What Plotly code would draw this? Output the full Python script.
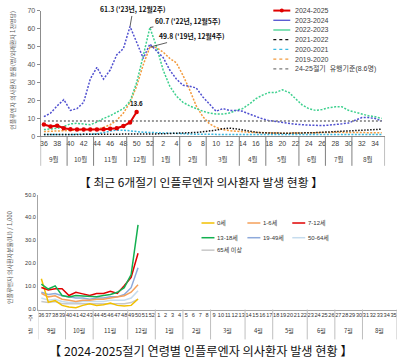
import plotly.graph_objects as go

W, H = 400, 364

# ---------------- data ----------------
WEEKS = [36, 37, 38, 39, 40, 41, 42, 43, 44, 45, 46, 47, 48, 49, 50, 51, 52,
         1, 2, 3, 4, 5, 6, 7, 8, 9, 10, 11, 12, 13, 14, 15, 16, 17, 18, 19, 20,
         21, 22, 23, 24, 25, 26, 27, 28, 29, 30, 31, 32, 33, 34, 35]
MONTHS = ["9월", "10월", "11월", "12월", "1월", "2월", "3월", "4월", "5월", "6월", "7월", "8월"]
MONTH_WEEKS = [4, 4, 5, 4, 4, 4, 5, 4, 5, 4, 4, 5]

SEASONS = ["2024-2025", "2023-2024", "2022-2023", "2021-2022", "2020-2021", "2019-2020"]
S2425 = [6.6, 5.5, 6.0, 4.6, 4.0, 3.9, 3.9, 3.9, 3.9, 4.0, 4.3, 4.6, 5.8, 7.8, 13.6]
S2324 = [11.0, 13.0, 17.0, 20.5, 14.5, 15.5, 19.0, 32.0, 38.5, 32.0, 37.0, 45.5, 49.0, 61.3, 52.5, 43.5, 51.5,
         48.0, 44.0, 37.0, 32.0, 28.5, 28.0, 27.0, 22.0, 18.0, 14.0, 15.5, 14.5, 14.5, 14.0, 12.5, 11.0, 9.8,
         8.8, 8.2, 7.6, 7.0, 6.8, 6.5, 6.2, 6.0, 6.0, 6.3, 6.5, 7.0, 7.5, 9.0, 10.5, 10.5, 10.0, 8.6]
S2223 = [3.8, 4.0, 4.5, 5.5, 7.0, 7.3, 7.0, 6.5, 8.0, 10.0, 11.5, 13.5, 15.5, 19.5, 30.0, 45.0, 60.7,
         50.0, 37.0, 28.0, 22.5, 19.0, 17.0, 15.5, 14.0, 13.0, 12.5, 12.5, 13.0, 14.5, 15.5, 18.0, 21.0, 23.0,
         24.5, 24.5, 26.0, 24.5, 21.0, 17.5, 15.5, 14.5, 15.0, 16.0, 16.5, 16.5, 14.5, 13.5, 12.5, 11.5, 11.0, 10.0]
S2122 = [1.0, 1.0, 1.0, 1.0, 1.0, 1.0, 1.0, 1.0, 1.0, 1.0, 1.0, 1.0, 1.1, 1.1, 1.1, 1.2, 1.3,
         1.4, 1.5, 1.6, 1.7, 1.8, 2.0, 2.2, 2.6, 3.0, 3.5, 4.3, 4.6, 4.2, 3.5, 2.8, 2.3, 2.0,
         1.8, 1.8, 1.8, 1.8, 1.8, 1.9, 2.0, 2.1, 2.3, 2.5, 2.7, 3.0, 3.2, 3.4, 3.5, 3.7, 3.9, 4.0]
S2021 = [1.0, 1.0, 1.0, 1.0, 1.0, 1.0, 1.0, 1.2, 1.5, 2.0, 3.0, 3.5, 3.5, 3.0, 2.5, 2.3, 2.2,
         2.0, 1.8, 1.6, 1.5, 1.4, 1.3, 1.2, 1.2, 1.1, 1.1, 1.0, 1.0, 1.0, 1.0, 1.0, 1.0, 1.0,
         1.0, 1.0, 1.0, 1.0, 1.0, 1.0, 1.0, 1.0, 1.0, 1.0, 1.0, 1.0, 1.0, 1.0, 1.0, 1.0, 1.0, 1.0]
S1920 = [2.7, 2.8, 3.0, 3.0, 3.3, 3.5, 3.6, 3.8, 4.0, 5.0, 6.5, 9.0, 13.0, 19.0, 28.0, 40.0, 49.8,
         49.5, 47.0, 43.5, 41.0, 34.0, 26.0, 17.0, 11.0, 7.0, 5.0, 3.8, 3.2, 2.8, 2.5, 2.3, 2.2, 2.0,
         2.0, 1.8, 1.8, 1.8, 1.8, 1.8, 2.0, 2.0, 2.2, 2.2, 2.3, 2.3, 2.2, 2.2, 2.2, 2.0, 2.0, 2.0]
THRESHOLD = 8.6
THRESHOLD_LABEL = "24-25절기  유행기준(8.6명)"

PEAK_LABELS = ["61.3 ('23년, 12월2주)", "60.7 ('22년, 12월5주)", "49.8 ('19년, 12월4주)"]

AGE_GROUPS = ["0세", "1-6세", "7-12세", "13-18세", "19-49세", "50-64세", "65세 이상"]
AGE_0 = [13.4, 3.2, 3.9, 1.8, 1.1, 0.8, 1.8, 2.5, 1.8, 2.1, 2.8, 1.8, 1.5, 1.8, 4.6]
AGE_1_6 = [7.0, 5.5, 6.0, 4.5, 4.0, 3.5, 4.0, 4.0, 4.5, 4.5, 5.0, 5.5, 6.0, 7.5, 10.8]
AGE_7_12 = [9.6, 8.5, 9.0, 9.0, 6.1, 7.5, 6.8, 6.1, 7.0, 7.0, 7.9, 7.0, 10.3, 14.0, 24.5]
AGE_13_18 = [11.0, 8.9, 10.3, 6.1, 5.4, 6.1, 5.9, 5.9, 5.6, 6.1, 6.5, 7.5, 9.5, 15.2, 36.8]
AGE_19_49 = [7.5, 6.5, 7.0, 6.0, 5.5, 5.0, 5.0, 4.5, 5.0, 5.0, 5.5, 5.5, 6.5, 9.5, 18.2]
AGE_50_64 = [5.0, 4.0, 4.5, 3.5, 3.0, 3.0, 3.5, 3.5, 3.5, 3.5, 4.0, 4.0, 4.0, 5.0, 8.2]
AGE_65 = [3.5, 3.0, 3.5, 2.5, 2.5, 2.5, 2.5, 2.5, 2.5, 2.5, 2.5, 2.5, 2.5, 3.0, 4.5]

# ---------------- styles ----------------
FONT = "Liberation Sans, Noto Sans CJK KR, sans-serif"
KFONT = "Noto Sans CJK KR, Liberation Sans, sans-serif"
SEASON_COLORS = ["#e00000", "#5050d0", "#3dd08e", "#111111", "#38b8e0", "#f39a3c"]
SEASON_DASH = [None, "2px,1.5px", "2px,1.5px", "1.5px,1.5px", "2px,1.5px", "2px,1.5px"]
THR_COLOR = "#7a7a7a"
AGE_COLORS = ["#f2c000", "#f5a05a", "#e00000", "#12b050", "#8eaadb", "#c6dcee", "#c8c8c8"]
AXC = "#8c8c8c"
TXT = "#404040"

xi = list(range(len(WEEKS)))


def PX(px):
    return px / W


def PY(py):
    return 1 - py / H


def label(text, px, py, size, color="#333333", family=KFONT, xanchor="center", angle=0):
    return dict(text=text, xref="paper", yref="paper", x=PX(px), y=PY(py), showarrow=False,
                xanchor=xanchor, yanchor="middle", textangle=angle,
                font=dict(size=size, color=color, family=family))


fig = go.Figure()

# ----- top chart traces -----
season_series = [S2425, S2324, S2223, S2122, S2021, S1920]
for k in [5, 4, 3, 2, 1]:
    fig.add_trace(go.Scatter(
        x=xi[:len(season_series[k])], y=season_series[k], mode="lines",
        line=dict(color=SEASON_COLORS[k], width=1.5, dash=SEASON_DASH[k]),
        name=SEASONS[k], xaxis="x", yaxis="y", hoverinfo="skip"))
fig.add_trace(go.Scatter(
    x=[xi[0], xi[-1]], y=[THRESHOLD, THRESHOLD], mode="lines",
    line=dict(color=THR_COLOR, width=1.5, dash="2px,2px"),
    name=THRESHOLD_LABEL, xaxis="x", yaxis="y", hoverinfo="skip"))
fig.add_trace(go.Scatter(
    x=xi[:len(S2425)], y=S2425, mode="lines+markers",
    line=dict(color=SEASON_COLORS[0], width=2),
    marker=dict(size=4.5, color=SEASON_COLORS[0]),
    name=SEASONS[0], xaxis="x", yaxis="y", hoverinfo="skip"))

# ----- bottom chart traces -----
age_series = [AGE_0, AGE_1_6, AGE_7_12, AGE_13_18, AGE_19_49, AGE_50_64, AGE_65]
for k in [6, 5, 4, 1, 0, 2, 3]:
    fig.add_trace(go.Scatter(
        x=xi[:len(age_series[k])], y=age_series[k], mode="lines",
        line=dict(color=AGE_COLORS[k], width=1.5),
        name=AGE_GROUPS[k], xaxis="x2", yaxis="y2", hoverinfo="skip"))

# ----- axes -----
top_ticks = [i for i, w in enumerate(WEEKS) if w % 2 == 0]
fig.update_layout(
    width=W, height=H, margin=dict(l=0, r=0, t=0, b=0, pad=0),
    paper_bgcolor="white", plot_bgcolor="white", showlegend=False,
    font=dict(family=FONT, color=TXT), hovermode=False,
    xaxis=dict(domain=[PX(39.7), PX(385)], range=[-0.5, 51.5], showgrid=False, zeroline=False,
               showline=True, linecolor=AXC, linewidth=1, ticks="",
               tickvals=top_ticks, ticktext=[str(WEEKS[i]) for i in top_ticks],
               tickfont=dict(size=7, color=TXT), tickangle=0, anchor="y", fixedrange=True),
    yaxis=dict(domain=[PY(135), PY(7)], range=[0, 70], dtick=10, showgrid=False, zeroline=False,
               showline=True, linecolor=AXC, linewidth=1, ticks="outside", ticklen=3, tickcolor=AXC,
               tickfont=dict(size=7, color="#555555"), anchor="x", fixedrange=True),
    xaxis2=dict(domain=[PX(37), PX(397)], range=[-0.5, 51.5], showgrid=False, zeroline=False,
                showline=True, linecolor="#a6a6a6", linewidth=1, ticks="",
                tickvals=xi, ticktext=[str(w) for w in WEEKS],
                tickfont=dict(size=5.6, color="#333333"), tickangle=0, anchor="y2", fixedrange=True),
    yaxis2=dict(domain=[PY(311.5), PY(194.3)], range=[0, 50], dtick=10, tickformat=".1f",
                showgrid=False, zeroline=False, showline=True, linecolor="#a6a6a6", linewidth=1,
                ticks="", tickfont=dict(size=5.5, color="#333333"), anchor="x2", fixedrange=True),
)

shapes = []
annotations = []

# month separators and labels
bounds = [-0.5]
for n in MONTH_WEEKS:
    bounds.append(bounds[-1] + n)
for b in bounds:
    shapes.append(dict(type="line", xref="x", yref="paper", x0=b, x1=b, y0=PY(135), y1=PY(165),
                       line=dict(color="#7f7f7f", width=1)))
    shapes.append(dict(type="line", xref="x2", yref="paper", x0=b, x1=b, y0=PY(311.5), y1=PY(342),
                       line=dict(color="#bfbfbf", width=1)))
for m, lab in enumerate(MONTHS):
    c = (bounds[m] + bounds[m + 1]) / 2
    annotations.append(dict(text=lab, xref="x", yref="paper", x=c, y=PY(158), showarrow=False,
                            font=dict(size=6.5, color=TXT, family=KFONT), xanchor="center", yanchor="middle"))
    annotations.append(dict(text=lab, xref="x2", yref="paper", x=c, y=PY(333), showarrow=False,
                            font=dict(size=6, color="#333333", family=KFONT), xanchor="center", yanchor="middle"))
annotations.append(label("주", 30, 320, 5.5))
annotations.append(label("월", 30, 333, 5.5))

# peak labels
peak_idx = [S2324.index(max(S2324)), S2223.index(max(S2223)), S1920.index(max(S1920))]
peak_val = [max(S2324), max(S2223), max(S1920)]
peak_off = [(3, -17), (38, -7), (42, -11)]
for lab, i, v, (ax, ay) in zip(PEAK_LABELS, peak_idx, peak_val, peak_off):
    annotations.append(dict(text="<b>" + lab + "</b>", x=i, y=v, xref="x", yref="y",
                            showarrow=True, arrowhead=0, arrowwidth=0.8, arrowcolor="#333333",
                            ax=ax, ay=ay, font=dict(size=6.8, color="#111111", family=KFONT)))
annotations.append(dict(text="<b>%.1f</b>" % S2425[-1], x=len(S2425) - 1, y=S2425[-1], xref="x", yref="y",
                        showarrow=False, yshift=9, xanchor="center", yanchor="middle",
                        font=dict(size=6.5, color="#111111", family=FONT)))

# axis titles
annotations.append(label("인플루엔자 의사환자 분율(명/외래환자 1천명당)", 12, 67, 6, "#555555", angle=-90))
annotations.append(label("인플루엔자 의사환자분율(ILI) / 1,000", 8, 258, 6, "#555555", angle=-90))

# titles
annotations.append(label("【 최근 6개절기 인플루엔자 의사환자 발생 현황 】", 200, 181, 11.8, "#111111"))
annotations.append(label("【 2024-2025절기 연령별 인플루엔자 의사환자 발생 현황 】", 200, 354, 12.2, "#111111"))

# top legend (manual)
leg_names = SEASONS + [THRESHOLD_LABEL]
leg_colors = SEASON_COLORS + [THR_COLOR]
leg_dash = ["solid", "solid", "solid", "dot", "dot", "dot", "dot"]
for r, (nm, col, ds) in enumerate(zip(leg_names, leg_colors, leg_dash)):
    yy = 6.7 + r * 9.9
    shapes.append(dict(type="line", xref="paper", yref="paper", x0=PX(273), x1=PX(290), y0=PY(yy), y1=PY(yy),
                       line=dict(color=col, width=2 if r == 0 else 1.3, dash=ds)))
    if r == 0:
        shapes.append(dict(type="circle", xref="paper", yref="paper", x0=PX(279.5), x1=PX(283.5),
                           y0=PY(yy + 2), y1=PY(yy - 2), fillcolor=col, line=dict(color=col, width=0)))
    annotations.append(label(nm, 293, yy, 7, TXT, FONT, xanchor="left"))

# bottom legend (manual)
cols_x = [201, 247, 292]
rows_y = [223.3, 238.3, 251]
for k, nm in enumerate(AGE_GROUPS):
    cx = cols_x[k % 3]
    ry = rows_y[k // 3]
    shapes.append(dict(type="line", xref="paper", yref="paper", x0=PX(cx), x1=PX(cx + 13), y0=PY(ry), y1=PY(ry),
                       line=dict(color=AGE_COLORS[k], width=1.5)))
    annotations.append(label(nm, cx + 14, ry, 6, "#333333", FONT, xanchor="left"))

fig.update_layout(shapes=shapes, annotations=annotations)
fig.write_html("out.html", config={"displayModeBar": False, "staticPlot": True},
               post_script="document.body.style.margin='0';document.body.style.overflow='hidden';")
